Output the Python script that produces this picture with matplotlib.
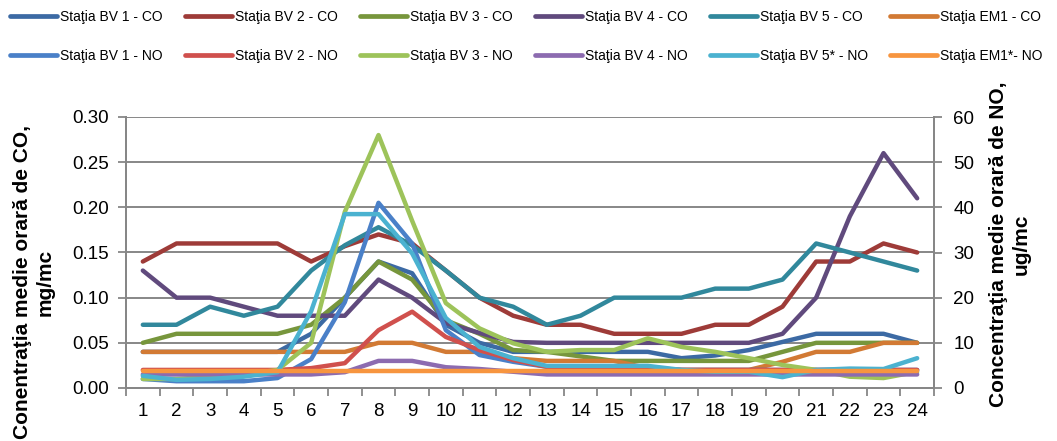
import matplotlib
matplotlib.use("Agg")
import matplotlib.pyplot as plt
from matplotlib.lines import Line2D
from matplotlib.ticker import MultipleLocator, FixedLocator

plt.rcParams['font.family'] = ['Liberation Sans', 'DejaVu Sans']

hours = list(range(1, 25))
hour_labels = [str(h) for h in hours]

co_bv1 = [0.04, 0.04, 0.04, 0.04, 0.04, 0.06, 0.10, 0.14, 0.127, 0.07, 0.05, 0.04,
          0.04, 0.04, 0.04, 0.04, 0.033, 0.036, 0.042, 0.051, 0.06, 0.06, 0.06, 0.05]
co_bv2 = [0.14, 0.16, 0.16, 0.16, 0.16, 0.14, 0.157, 0.17, 0.16, 0.13, 0.10, 0.08,
          0.07, 0.07, 0.06, 0.06, 0.06, 0.07, 0.07, 0.09, 0.14, 0.14, 0.16, 0.15]
co_bv3 = [0.05, 0.06, 0.06, 0.06, 0.06, 0.07, 0.10, 0.14, 0.12, 0.075, 0.06, 0.042,
          0.04, 0.035, 0.03, 0.03, 0.03, 0.03, 0.03, 0.04, 0.05, 0.05, 0.05, 0.05]
co_bv4 = [0.13, 0.10, 0.10, 0.09, 0.08, 0.08, 0.08, 0.12, 0.10, 0.072, 0.061, 0.051,
          0.05, 0.05, 0.05, 0.05, 0.05, 0.05, 0.05, 0.06, 0.10, 0.19, 0.26, 0.21]
co_bv5 = [0.07, 0.07, 0.09, 0.08, 0.09, 0.13, 0.158, 0.178, 0.158, 0.13, 0.10, 0.09,
          0.07, 0.08, 0.10, 0.10, 0.10, 0.11, 0.11, 0.12, 0.16, 0.15, 0.14, 0.13]
co_em1 = [0.04, 0.04, 0.04, 0.04, 0.04, 0.04, 0.04, 0.05, 0.05, 0.04, 0.04, 0.033,
          0.03, 0.03, 0.03, 0.022, 0.02, 0.02, 0.02, 0.029, 0.04, 0.04, 0.05, 0.05]

no_bv1 = [2.0, 1.5, 1.5, 1.5, 2.2, 6.4, 19.0, 41.0, 32.0, 12.8, 7.3, 5.8,
          4.7, 4.5, 4.5, 4.5, 4.0, 4.0, 4.0, 4.0, 4.0, 4.0, 4.0, 4.0]
no_bv2 = [4.0, 4.0, 4.0, 4.0, 4.0, 4.4, 5.5, 12.8, 16.9, 11.3, 8.4, 6.2,
          4.7, 4.0, 4.0, 4.0, 4.0, 4.0, 4.0, 4.0, 4.0, 4.0, 4.0, 4.0]
no_bv3 = [2.0, 2.0, 2.5, 3.0, 4.0, 10.0, 39.0, 56.0, 37.0, 18.8, 13.2, 9.9,
          8.0, 8.4, 8.4, 11.0, 9.1, 8.0, 6.6, 5.1, 4.0, 2.5, 2.2, 3.6]
no_bv4 = [3.0, 3.0, 3.0, 3.0, 3.0, 3.0, 3.5, 6.0, 6.0, 4.6, 4.2, 3.6,
          3.0, 3.0, 3.0, 3.0, 3.0, 3.0, 3.0, 3.0, 3.0, 3.0, 3.0, 3.0]
no_bv5 = [2.7, 1.8, 2.0, 2.5, 3.5, 17.0, 38.5, 38.5, 29.8, 15.5, 9.1, 6.6,
          4.9, 4.9, 4.9, 4.9, 4.0, 3.6, 3.6, 2.4, 4.0, 4.3, 4.2, 6.6]
no_em1 = [3.7, 3.7, 3.7, 3.7, 3.7, 3.7, 3.7, 3.7, 3.7, 3.7, 3.7, 3.7,
          3.7, 3.7, 3.7, 3.7, 3.7, 3.7, 3.7, 3.7, 3.7, 3.7, 3.7, 3.7]

co_series = [
    ("Staţia BV 1 - CO", co_bv1, "#3C6AA4"),
    ("Staţia BV 2 - CO", co_bv2, "#9E3B38"),
    ("Staţia BV 3 - CO", co_bv3, "#77963C"),
    ("Staţia BV 4 - CO", co_bv4, "#604A7D"),
    ("Staţia BV 5 - CO", co_bv5, "#31889C"),
    ("Staţia EM1 - CO", co_em1, "#D27A34"),
]
no_series = [
    ("Staţia BV 1 - NO", no_bv1, "#4A80C8"),
    ("Staţia BV 2 - NO", no_bv2, "#D0504D"),
    ("Staţia BV 3 - NO", no_bv3, "#9DC35A"),
    ("Staţia BV 4 - NO", no_bv4, "#8C6BB0"),
    ("Staţia BV 5* - NO", no_bv5, "#4BB2D0"),
    ("Staţia EM1*- NO", no_em1, "#F7953F"),
]

W, H = 1057, 441
fig = plt.figure(figsize=(W / 100, H / 100), dpi=100)
ax = fig.add_axes([126 / W, 1 - 388 / H, (934 - 126) / W, (388 - 117) / H])
ax2 = ax.twinx()

grey = "#878787"
lw = 3.2

for name, vals, col in co_series:
    ax.plot(hours, vals, color=col, lw=lw, solid_joinstyle='round', solid_capstyle='round')
for name, vals, col in no_series:
    ax2.plot(hours, vals, color=col, lw=lw, solid_joinstyle='round', solid_capstyle='round')

ax.set_xlim(0.5, 24.5)
ax.set_ylim(0, 0.30)
ax2.set_ylim(0, 60)
ax.yaxis.set_major_locator(MultipleLocator(0.05))
ax2.yaxis.set_major_locator(MultipleLocator(10))
ax.set_yticklabels([f"{v:.2f}" for v in ax.get_yticks()])

ax.set_xticks(hours)
ax.set_xticklabels(hour_labels)
ax.xaxis.set_minor_locator(FixedLocator([h + 0.5 for h in [0] + hours]))
ax.tick_params(axis='x', which='major', length=0, pad=11, labelsize=13.5, colors='black')
ax.tick_params(axis='x', which='minor', length=6, width=1.3, color=grey)
ax.tick_params(axis='y', which='major', length=6, width=1.3, color=grey, pad=6,
               labelsize=13.5, labelcolor='black')
ax2.tick_params(axis='y', which='major', length=6, width=1.3, color=grey, pad=8,
                labelsize=13.5, labelcolor='black')

ax.grid(axis='y', color=grey, lw=1.4)
ax.set_axisbelow(True)
for a in (ax, ax2):
    a.spines['top'].set_visible(False)
    for s in ('left', 'right', 'bottom'):
        a.spines[s].set_color(grey)
        a.spines[s].set_linewidth(1.4)

fig.text(34 / W, 1 - 282 / H, "Conentraţia medie orară de CO,\nmg/mc", rotation=90,
         ha='center', va='center', multialignment='center', fontsize=15, fontweight='bold')
fig.text(1010 / W, 1 - 244 / H, "Concentraţia medie orară de NO,\nug/mc", rotation=90,
         ha='center', va='center', multialignment='center', fontsize=15, fontweight='bold')

handles = []
labels = []
for (n1, _, c1), (n2, _, c2) in zip(co_series, no_series):
    handles.append(Line2D([], [], color=c1, lw=3.4, solid_capstyle='round'))
    labels.append(n1)
    handles.append(Line2D([], [], color=c2, lw=3.4, solid_capstyle='round'))
    labels.append(n2)

fig.legend(handles, labels, ncol=6, loc='upper left', bbox_to_anchor=(0.0, 1.0),
           frameon=False, fontsize=10, handlelength=3.4, handletextpad=0.2,
           columnspacing=1.6, labelspacing=1.8, borderaxespad=0.5, borderpad=0.2)

fig.savefig("out.png", dpi=100)
